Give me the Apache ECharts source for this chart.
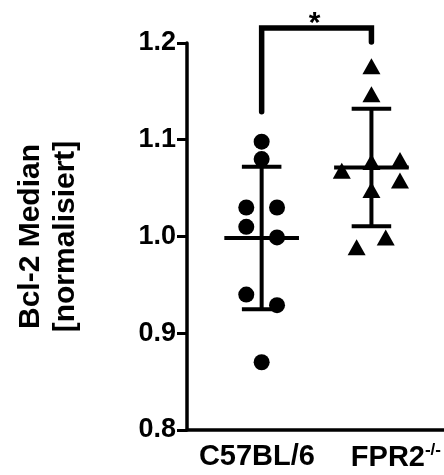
<!DOCTYPE html>
<html>
<head>
<meta charset="utf-8">
<script src="https://cdn.jsdelivr.net/npm/echarts@6/dist/echarts.min.js"></script>
<style>
  html, body { margin: 0; padding: 0; background: #fff; }
  #chart { width: 444px; height: 475px; }
</style>
</head>
<body>
<div id="chart"></div>
<script>
const groups = ["C57BL/6", "FPR2"];
const groupCenters = [1, 2];

// C57BL/6 (circles)
const wtValues = [1.098, 1.080, 1.030, 1.030, 1.010, 0.999, 0.940, 0.929, 0.870];
const wtX = [1, 1, 0.86, 1.14, 0.86, 1.14, 0.86, 1.14, 1];

// FPR2-/- (triangles)
const koValues = [1.176, 1.147, 1.068, 1.077, 1.079, 1.058, 1.048, 0.999, 0.989];
const koX = [2, 2, 1.73, 2, 2.26, 2.26, 2, 2.13, 1.865];

const yTicks = [0.8, 0.9, 1.0, 1.1, 1.2];
const font = "Liberation Sans";

function mean(arr) {
  return arr.reduce((a, b) => a + b, 0) / arr.length;
}

function sd(arr) {
  const m = mean(arr);
  return Math.sqrt(arr.reduce((a, b) => a + (b - m) * (b - m), 0) / (arr.length - 1));
}

const stats = [
  [groupCenters[0], mean(wtValues), sd(wtValues)],
  [groupCenters[1], mean(koValues), sd(koValues)]
];

function line(p1, p2, width) {
  return {
    type: "line",
    shape: { x1: p1[0], y1: p1[1], x2: p2[0], y2: p2[1] },
    style: { stroke: "#000", lineWidth: width }
  };
}

const chart = echarts.init(document.getElementById("chart"), null, { renderer: "canvas" });
chart.setOption({
  backgroundColor: "#fff",
  animation: false,
  grid: { left: 187, right: 0, top: 43, bottom: 45 },
  xAxis: {
    type: "value",
    min: 0.32,
    max: 2.66,
    splitLine: { show: false },
    axisTick: { show: false },
    axisLine: { show: true, lineStyle: { color: "#000", width: 3.5 } },
    axisLabel: {
      customValues: [0.957, 2.223],
      margin: 12,
      color: "#000",
      fontFamily: font,
      fontWeight: "bold",
      fontSize: 29,
      formatter: (v) => (v < 1.5 ? groups[0] : groups[1] + "{sup|-/-}"),
      rich: {
        sup: { fontFamily: font, fontWeight: "bold", fontSize: 17, color: "#000", verticalAlign: "top", padding: [0, 0, 14, 0] }
      }
    }
  },
  yAxis: {
    type: "value",
    min: yTicks[0],
    max: yTicks[yTicks.length - 1],
    interval: 0.1,
    splitLine: { show: false },
    axisLine: { show: true, lineStyle: { color: "#000", width: 3.5 } },
    axisTick: { show: true, length: 10, lineStyle: { color: "#000", width: 3 } },
    axisLabel: {
      margin: 11,
      color: "#000",
      fontFamily: font,
      fontWeight: "bold",
      fontSize: 27,
      formatter: (v) => v.toFixed(1)
    },
    name: "Bcl-2 Median\n[normalisiert]",
    nameLocation: "middle",
    nameRotate: 90,
    nameGap: 104,
    nameTextStyle: { color: "#000", fontFamily: font, fontWeight: "bold", fontSize: 30, lineHeight: 35 }
  },
  series: [
    {
      type: "custom",
      z: 2,
      clip: false,
      data: stats,
      renderItem: (params, api) => {
        const c = api.value(0), m = api.value(1), s = api.value(2);
        const p = (x, y) => api.coord([x, y]);
        return {
          type: "group",
          children: [
            line(p(c - 0.34, m), p(c + 0.34, m), 4),
            line(p(c, m - s), p(c, m + s), 4),
            line(p(c - 0.18, m + s), p(c + 0.18, m + s), 4),
            line(p(c - 0.18, m - s), p(c + 0.18, m - s), 4)
          ]
        };
      }
    },
    {
      type: "scatter",
      z: 3,
      symbol: "circle",
      symbolSize: 16,
      itemStyle: { color: "#000", opacity: 1 },
      data: wtValues.map((v, i) => [wtX[i], v])
    },
    {
      type: "scatter",
      z: 3,
      symbol: "triangle",
      symbolSize: [18, 16],
      itemStyle: { color: "#000", opacity: 1 },
      data: koValues.map((v, i) => [koX[i], v])
    },
    {
      type: "custom",
      z: 4,
      clip: false,
      data: [[groupCenters[0], groupCenters[1]]],
      renderItem: (params, api) => {
        const a = api.value(0), b = api.value(1);
        const pts = [api.coord([a, 1.129]), api.coord([a, 1.2155]), api.coord([b, 1.2155]), api.coord([b, 1.201])];
        const mid = api.coord([(a + b) / 2, 1.2155]);
        return {
          type: "group",
          children: [
            {
              type: "polyline",
              shape: { points: pts },
              style: { stroke: "#000", fill: null, lineWidth: 5.5, lineCap: "round", lineJoin: "miter" }
            },
            {
              type: "text",
              style: {
                text: "*",
                x: mid[0] - 2,
                y: mid[1] + 11,
                fill: "#000",
                font: "bold 30px " + font,
                align: "center",
                verticalAlign: "bottom",
                textAlign: "center",
                textVerticalAlign: "bottom"
              }
            }
          ]
        };
      }
    }
  ]
});
</script>
</body>
</html>
